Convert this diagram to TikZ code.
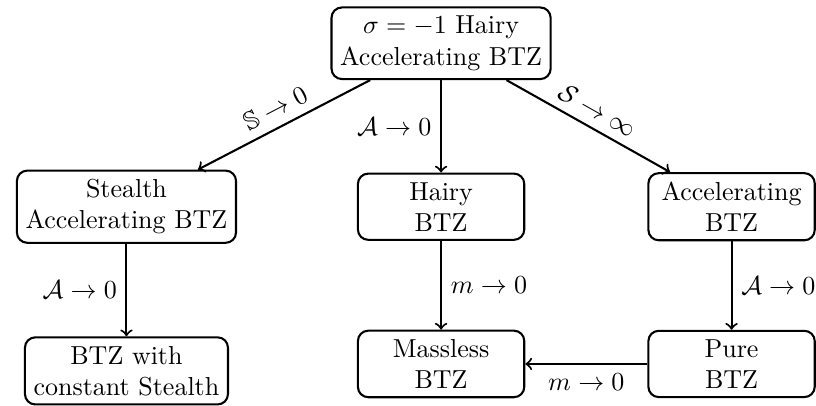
\documentclass[tikz,border=0pt]{standalone}
\usepackage{amssymb}
\usetikzlibrary{shapes,arrows,positioning}

\begin{document}
\begin{tikzpicture}[every node/.style={font=\normalsize},
		box/.style={rectangle, draw, thick, rounded corners, align=center, minimum width=2.25cm}]
	\useasboundingbox (-5.965,0.585) rectangle (5.07,-4.895);
	\node[box] (hac) {$\sigma=-1$ Hairy\\Accelerating BTZ};
	\node[box, below=1.25cm of hac] (hair) {Hairy\\BTZ};
	\node[box, left=1.62cm of hair] (stac) {Stealth\\Accelerating BTZ};
	\node[box, right=1.65cm of hair] (acc) {Accelerating\\BTZ};
	\node[box, below=1.25cm of stac] (cst) {BTZ with\\constant Stealth};
	\node[box, below=1.2cm of hair] (mless) {Massless\\BTZ};
	\node[box, right=1.65cm of mless] (pure) {Pure\\BTZ};
	
	\draw[->, thick] (hac) -- node[above, sloped] {$\mathbb{S}\to 0$} (stac);
	\draw[->, thick] (hac) -- node[left] {$\mathcal{A}\to 0$} (hair);
	\draw[->, thick] (hac) -- node[above, sloped] {$\mathcal{S}\to \infty$} (acc);
	\draw[->, thick] (stac) -- node[left] {$\mathcal{A}\to 0$} (cst);
	\draw[->, thick] (hair) -- node[right] {$m\to 0$} (mless);
	\draw[->, thick] (acc) -- node[right] {$\mathcal{A}\to 0$} (pure);
	\draw[->, thick] (pure) -- node[below] {$m\to 0$} (mless);
\end{tikzpicture}
\end{document}
